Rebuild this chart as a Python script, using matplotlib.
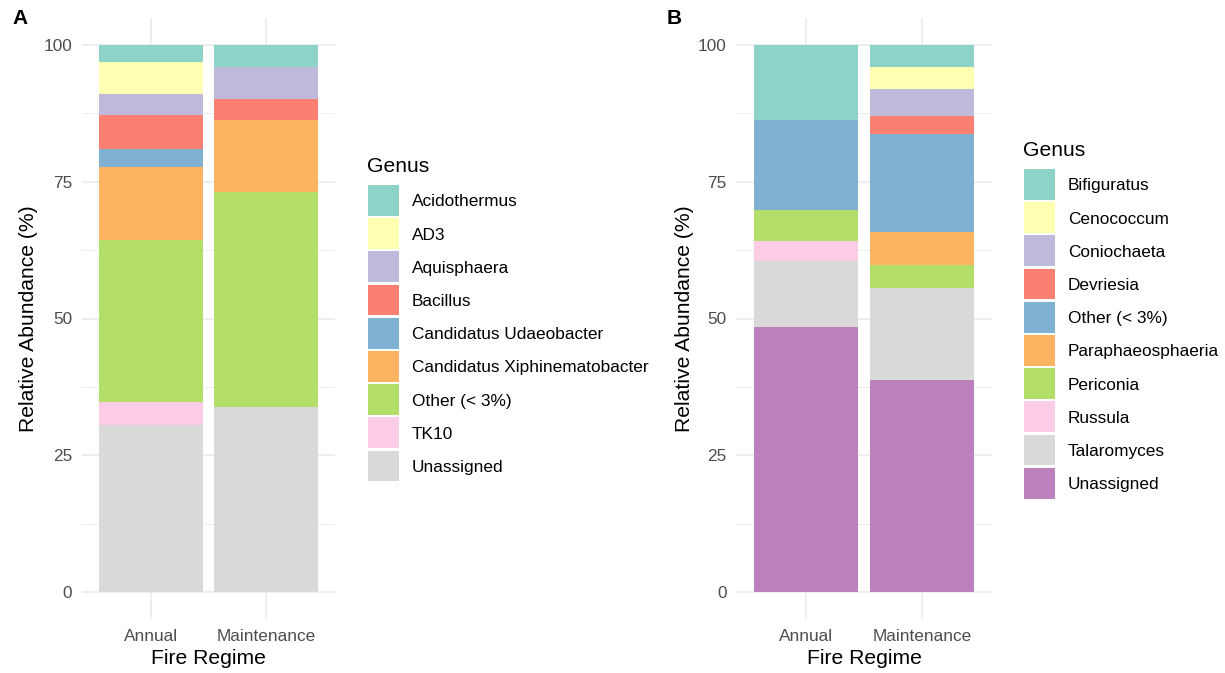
import matplotlib
matplotlib.use("Agg")
import matplotlib.pyplot as plt
from matplotlib.patches import Rectangle
import numpy as np

plt.rcParams['font.family'] = ['Liberation Sans', 'DejaVu Sans']

# ---- data -------------------------------------------------------------
regimes = ["Annual", "Maintenance"]

bact_genus = ["Acidothermus", "AD3", "Aquisphaera", "Bacillus",
              "Candidatus Udaeobacter", "Candidatus Xiphinematobacter",
              "Other (< 3%)", "TK10", "Unassigned"]
bact_annual = [3.1, 5.9, 3.8, 6.3, 3.2, 13.3, 29.7, 4.2, 30.5]
bact_maint = [4.0, 0.0, 5.9, 3.8, 0.0, 13.1, 39.4, 0.0, 33.8]

fungi_genus = ["Bifiguratus", "Cenococcum", "Coniochaeta", "Devriesia",
               "Other (< 3%)", "Paraphaeosphaeria", "Periconia", "Russula",
               "Talaromyces", "Unassigned"]
fungi_annual = [13.7, 0.0, 0.0, 0.0, 16.5, 0.0, 5.6, 3.7, 12.1, 48.4]
fungi_maint = [4.0, 4.0, 5.0, 3.3, 17.9, 6.0, 4.2, 0.0, 16.8, 38.8]

set3 = ["#8DD3C7", "#FFFFB3", "#BEBADA", "#FB8072", "#80B1D3",
        "#FDB462", "#B3DE69", "#FCCDE5", "#D9D9D9", "#BC80BD"]

W, H = 1225, 673
fig = plt.figure(figsize=(W / 100, H / 100), dpi=100)


def fx(px):
    return px / W


def fy(py):
    return 1 - py / H


def panel(left_px, right_px, genus, annual, maint, tag, tag_x,
          leg_x, leg_title_y, leg_top):
    top_px, bot_px = 17.6, 619.4
    ax = fig.add_axes([fx(left_px), fy(bot_px), fx(right_px - left_px),
                       (bot_px - top_px) / H])
    ax.set_xlim(0.4, 2.6)
    ax.set_ylim(-5, 105)
    for s in ax.spines.values():
        s.set_visible(False)
    ax.set_axisbelow(True)
    ax.set_yticks([0, 25, 50, 75, 100])
    ax.set_yticks([12.5, 37.5, 62.5, 87.5], minor=True)
    ax.set_xticks([1, 2])
    ax.set_xticklabels(regimes)
    ax.grid(True, which='major', color='#EBEBEB', linewidth=1.2)
    ax.grid(True, which='minor', axis='y', color='#EBEBEB', linewidth=0.6)
    ax.tick_params(which='both', length=0)
    ax.tick_params(axis='y', pad=7, labelsize=12.4, labelcolor='#4D4D4D')
    ax.tick_params(axis='x', pad=7, labelsize=12.4, labelcolor='#4D4D4D')

    vals = np.array([annual, maint])  # shape (2, n_genus)
    x = np.array([1, 2])
    n = len(genus)
    # first genus sits on top, last genus at the bottom
    bottom = np.zeros(2)
    for i in range(n - 1, -1, -1):
        ax.bar(x, vals[:, i], width=0.9, bottom=bottom, color=set3[i],
               linewidth=0)
        bottom = bottom + vals[:, i]

    ax.set_xlabel("Fire Regime", fontsize=15.2, va='center')
    ax.xaxis.set_label_coords(0.5, -(659 - bot_px) / (bot_px - top_px))
    ax.set_ylabel("Relative Abundance (%)", fontsize=15.2, va='center')
    ax.yaxis.set_label_coords((tag_x + 17 - left_px) / (right_px - left_px), 0.5)

    # panel tag
    fig.text(fx(tag_x), fy(18.5), tag, fontsize=15, fontweight='bold',
             ha='left', va='center')

    # legend
    fig.text(fx(leg_x - 1), fy(leg_title_y + 2), "Genus", fontsize=15.2,
             ha='left', va='center')
    kw, kh, step = 31, 30.7, 33.2
    for i, g in enumerate(genus):
        t = leg_top + i * step
        fig.patches.append(Rectangle((fx(leg_x), fy(t + kh)), fx(kw), kh / H,
                                     transform=fig.transFigure,
                                     facecolor=set3[i], edgecolor='none'))
        fig.text(fx(leg_x + 44), fy(t + kh / 2 + 1.5), g, fontsize=12.4,
                 ha='left', va='center')
    return ax


panel(82, 335, bact_genus, bact_annual, bact_maint, "A", 12,
      368, 165, 185)
panel(736.4, 991.6, fungi_genus, fungi_annual, fungi_maint, "B", 667,
      1024, 148, 169)

fig.savefig("out.png", dpi=100)
